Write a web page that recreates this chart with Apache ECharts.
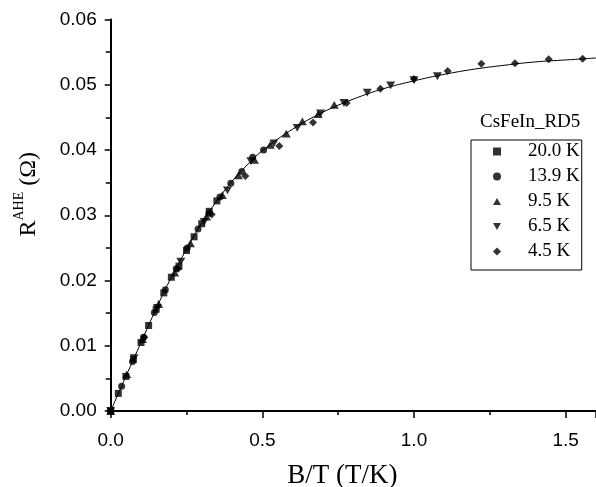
<!DOCTYPE html>
<html>
<head>
<meta charset="utf-8">
<script src="https://cdn.jsdelivr.net/npm/echarts@6/dist/echarts.min.js"></script>
<style>html,body{margin:0;padding:0;background:#fff;}#c{width:596px;height:487px;}</style>
</head>
<body>
<div id="c"></div>
<script>
// ---- data ----
const seriesNames = ['20.0 K', '13.9 K', '9.5 K', '6.5 K', '4.5 K'];

const x20 = [0,0.025,0.05,0.075,0.1,0.125,0.15,0.175,0.2,0.225,0.25,0.275,0.3,0.325,0.35];
const y20 = [0,0.0027,0.0053,0.0079,0.0105,0.0131,0.0156,0.0181,0.0205,0.0222,0.0246,0.0267,0.0287,0.0306,0.0322];

const x139 = [0,0.036,0.072,0.108,0.144,0.180,0.216,0.252,0.288,0.324,0.360,0.396,0.432,0.468,0.504];
const y139 = [0,0.0038,0.0076,0.0113,0.0151,0.0186,0.0218,0.0250,0.0279,0.0303,0.0328,0.0349,0.0367,0.0389,0.0400];

const x95 = [0,0.053,0.105,0.158,0.211,0.263,0.316,0.368,0.421,0.474,0.526,0.579,0.632,0.684,0.737];
const y95 = [0,0.0056,0.0110,0.0164,0.0212,0.0257,0.0298,0.0331,0.0361,0.0385,0.0408,0.0425,0.0444,0.0455,0.0469];

const x65 = [0,0.077,0.154,0.231,0.308,0.385,0.462,0.538,0.615,0.692,0.769,0.846,0.923,1.0,1.077];
const y65 = [0,0.0081,0.0158,0.0229,0.0290,0.0338,0.0383,0.0410,0.0434,0.0456,0.0472,0.0488,0.0499,0.0507,0.0513];

const x45 = [0,0.111,0.222,0.333,0.444,0.556,0.667,0.778,0.889,1.0,1.111,1.222,1.333,1.444,1.556];
const y45 = [0,0.0113,0.0218,0.0301,0.0360,0.0406,0.0442,0.0472,0.0494,0.0509,0.0521,0.0532,0.0533,0.0539,0.0540];

const fitX = [0,0.05,0.1,0.15,0.2,0.25,0.3,0.35,0.4,0.45,0.5,0.6,0.7,0.8,0.9,1.0,1.1,1.2,1.3,1.4,1.5,1.6];
const fitY = [0,0.0053,0.0105,0.0157,0.0205,0.0248,0.0288,0.0322,0.0352,0.0377,0.0399,0.0432,0.0458,0.0478,0.0494,0.0506,0.0516,0.0524,0.0530,0.0535,0.0538,0.0541];

const xTicks = ['0.0','0.5','1.0','1.5'];
const yTicks = ['0.00','0.01','0.02','0.03','0.04','0.05','0.06'];
// ----------------------------------------

const pairs = (xs, ys) => xs.map((x, i) => [x, ys[i]]);
const downTri = 'path://M0,0L10,0L5,8.66Z';
const upTri = 'path://M5,0L10,8.66L0,8.66Z';
const diamond = 'path://M5,0L10,5L5,10L0,5Z';
const symbols = ['rect', 'circle', upTri, downTri, diamond];
const sizes = [7, 7, 9, 9, 8];
const dataSets = [pairs(x20,y20), pairs(x139,y139), pairs(x95,y95), pairs(x65,y65), pairs(x45,y45)];

const serif = 'Liberation Serif';
const sans = 'Liberation Sans';

const chart = echarts.init(document.getElementById('c'), null, {renderer: 'canvas'});
const option = {
  animation: false,
  backgroundColor: '#fff',
  title: {
    text: 'CsFeIn_RD5', left: 480, top: 113, padding: 0,
    textStyle: {fontFamily: serif, fontSize: 19, fontWeight: 'normal', color: '#000'}
  },
  legend: {
    data: seriesNames.map((n, i) => ({name: n, icon: symbols[i]})),
    orient: 'vertical', left: 471, top: 140,
    itemWidth: 8, itemHeight: 8, itemGap: 6,
    symbolKeepAspect: true,
    padding: [2, 2, 9, 22],
    borderColor: '#000', borderWidth: 1,
    selectedMode: false,
    formatter: '{t|{name}}',
    textStyle: {
      fontFamily: serif, fontSize: 19, lineHeight: 19, color: '#000',
      rich: {t: {fontFamily: serif, fontSize: 19, lineHeight: 19, color: '#000', padding: [0, 0, 0, 22]}}
    }
  },
  grid: {left: 110.7, right: 0, top: 19.5, bottom: 76, containLabel: false, outerBoundsMode: 'none'},
  xAxis: {
    type: 'value', min: 0, max: 1.6, interval: 0.5,
    name: 'B/T (T/K)', nameLocation: 'middle', nameGap: 51,
    nameTextStyle: {fontFamily: serif, fontSize: 27, color: '#000', padding: [0, 22, 0, 0]},
    axisLine: {show: true, lineStyle: {color: '#000', width: 2}},
    axisTick: {show: true, inside: false, length: 7, lineStyle: {color: '#000', width: 1.5}},
    minorTick: {show: true, splitNumber: 2, length: 4, lineStyle: {color: '#000', width: 1.5}},
    splitLine: {show: false},
    axisLabel: {
      showMaxLabel: false, margin: 20, fontFamily: sans, fontSize: 19, color: '#000',
      formatter: v => xTicks[Math.round(v / 0.5)] || ''
    }
  },
  yAxis: {
    type: 'value', min: 0, max: 0.06, interval: 0.01,
    name: '{r|R}{s|AHE}{r| (Ω)}', nameLocation: 'middle', nameRotate: 90, nameGap: 70,
    nameTextStyle: {
      fontFamily: serif, color: '#000', padding: [0, 0, 0, 42],
      rich: {
        r: {fontFamily: serif, fontSize: 24, color: '#000', verticalAlign: 'bottom', lineHeight: 28},
        s: {fontFamily: serif, fontSize: 14, color: '#000', verticalAlign: 'top', lineHeight: 28}
      }
    },
    axisLine: {show: true, lineStyle: {color: '#000', width: 2}},
    axisTick: {show: true, inside: false, length: 6, lineStyle: {color: '#000', width: 1.5}},
    minorTick: {show: true, splitNumber: 2, length: 5, lineStyle: {color: '#000', width: 1.5}},
    splitLine: {show: false},
    axisLabel: {
      margin: 14, fontFamily: sans, fontSize: 19, color: '#000',
      formatter: v => yTicks[Math.round(v / 0.01)] || ''
    }
  },
  series: [
    {
      name: 'fit', type: 'line', data: pairs(fitX, fitY), smooth: 0.4,
      showSymbol: false, symbol: 'none', lineStyle: {color: '#000', width: 1}, z: 1, silent: true
    }
  ].concat(seriesNames.map((n, i) => ({
    name: n, type: 'scatter', data: dataSets[i], symbol: symbols[i], symbolSize: sizes[i],
    symbolKeepAspect: true, clip: false,
    itemStyle: {color: '#000'}, z: 2
  })))
};
chart.setOption(option);
</script>
</body>
</html>
